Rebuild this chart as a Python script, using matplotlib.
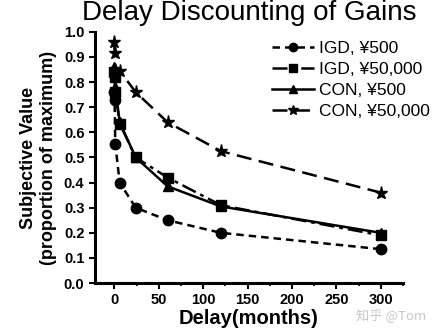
import matplotlib
matplotlib.use("Agg")
import matplotlib.pyplot as plt
from matplotlib.ticker import MultipleLocator

plt.rcParams['font.family'] = ['Liberation Sans', 'DejaVu Sans']

delay = [0.03, 0.25, 1, 6, 24, 60, 120, 300]
igd_500 = [0.76, 0.73, 0.555, 0.40, 0.30, 0.25, 0.20, 0.135]
igd_50000 = [0.84, 0.82, 0.76, 0.635, 0.50, 0.42, 0.31, 0.19]
con_500 = [0.86, 0.85, 0.78, 0.64, 0.50, 0.385, 0.305, 0.20]
con_50000 = [0.96, 0.915, 0.85, 0.845, 0.76, 0.64, 0.525, 0.36]
labels = ["IGD, ¥500", "IGD, ¥50,000", "CON, ¥500", "CON, ¥50,000"]

fig = plt.figure(figsize=(4.37, 3.35), dpi=100)
ax = fig.add_axes([0.217, 0.155, 0.705, 0.75])

ax.plot(delay, igd_500, 'k', ls=(0, (3, 2)), marker='o', ms=7.5, lw=1.8, label=labels[0])
ax.plot(delay, igd_50000, 'k', ls=(0, (6, 2, 1.5, 2)), marker='s', ms=7.5, lw=1.8, label=labels[1])
ax.plot(delay, con_500, 'k', ls='-', marker='^', ms=7.5, lw=1.8, label=labels[2])
ax.plot(delay, con_50000, 'k', ls=(0, (6, 3)), marker='*', ms=9.5, lw=1.8, label=labels[3])

ax.set_xlim(-22, 325)
ax.set_ylim(0, 1.0)
ax.xaxis.set_major_locator(MultipleLocator(50))
ax.xaxis.set_minor_locator(MultipleLocator(25))
ax.yaxis.set_major_locator(MultipleLocator(0.1))
ax.yaxis.set_major_formatter(plt.FormatStrFormatter('%.1f'))
for s in ['top', 'right']:
    ax.spines[s].set_visible(False)
for s in ['left', 'bottom']:
    ax.spines[s].set_linewidth(2.2)
ax.tick_params(which='major', direction='out', length=4, width=1.5, labelsize=10.5)
ax.tick_params(which='minor', direction='out', length=2.5, width=1.2)
for t in ax.get_xticklabels() + ax.get_yticklabels():
    t.set_fontweight('bold')

ax.set_xlabel("Delay(months)", fontsize=14.5, fontweight='bold', labelpad=1)
ax.set_ylabel("Subjective Value\n(proportion of maximum)", fontsize=13, fontweight='bold', labelpad=5)
fig.text(0.57, 1.0, "Delay Discounting of Gains", ha='center', va='top', fontsize=20)

leg = ax.legend(loc='upper right', bbox_to_anchor=(1.11, 0.99), frameon=False, fontsize=12.5,
                handlelength=2.4, handletextpad=0.3, labelspacing=0.33, borderaxespad=0,
                markerscale=0.8)

fig.text(0.975, 0.035, "知乎 @Tom", ha='right', va='bottom', fontsize=9.5, color='#c8c8c8',
         family=['Noto Sans CJK SC', 'DejaVu Sans'])

fig.savefig("out.png", dpi=100)
